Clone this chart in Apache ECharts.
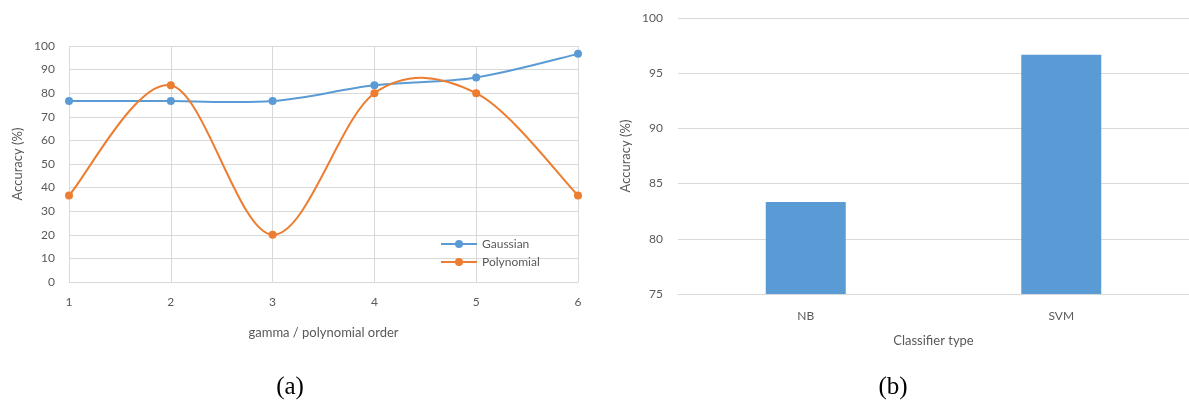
<!DOCTYPE html>
<html>
<head>
<meta charset="utf-8">
<script src="https://cdn.jsdelivr.net/npm/echarts@6/dist/echarts.min.js"></script>
<style>
  html, body { margin: 0; padding: 0; background: #fff; }
  #chart { width: 1189px; height: 401px; }
</style>
</head>
<body>
<div id="chart"></div>
<script>
// (a) accuracy vs. gamma / polynomial order
const orders = ['1', '2', '3', '4', '5', '6'];
const gaussian = [76.67, 76.67, 76.67, 83.33, 86.67, 96.67];
const polynomial = [36.67, 83.33, 20, 80, 80, 36.67];

// (b) accuracy per classifier
const classifiers = ['NB', 'SVM'];
const classifierAccuracy = [83.33, 96.67];

const BLUE = '#5B9BD5';
const ORANGE = '#ED7D31';
const GRID_LINE = '#d9d9d9';
const TEXT = '#595959';
const FONT = 'Lato, "Open Sans", sans-serif';
const CAPTION_FONT = '25px "Liberation Serif", "DejaVu Serif", serif';

const chart = echarts.init(document.getElementById('chart'), null, { renderer: 'canvas' });

const axisText = { color: TEXT, fontFamily: FONT, fontSize: 12 };
const nameText = { color: TEXT, fontFamily: FONT, fontSize: 13 };

// Cardinal-spline segment (tension 1/6) between point i and i+1, so the
// curve may swing past the markers the way spreadsheet smoothing does.
function smoothSegment(values, color) {
  return function (params, api) {
    const i = params.dataIndex;
    if (i >= values.length - 1) return null;
    const pt = (k) => {
      const j = Math.max(0, Math.min(values.length - 1, k));
      return api.coord([j, values[j]]);
    };
    const p0 = pt(i - 1), p1 = pt(i), p2 = pt(i + 1), p3 = pt(i + 2);
    return {
      type: 'bezierCurve',
      shape: {
        x1: p1[0], y1: p1[1],
        x2: p2[0], y2: p2[1],
        cpx1: p1[0] + (p2[0] - p0[0]) / 6,
        cpy1: p1[1] + (p2[1] - p0[1]) / 6,
        cpx2: p2[0] - (p3[0] - p1[0]) / 6,
        cpy2: p2[1] - (p3[1] - p1[1]) / 6
      },
      style: { fill: null, stroke: color, lineWidth: 2 }
    };
  };
}

function curveSeries(name, values, color) {
  return {
    name: name + ' curve',
    type: 'custom',
    xAxisIndex: 0,
    yAxisIndex: 0,
    data: values.map((v, i) => [i, v]),
    encode: { x: 0, y: 1 },
    renderItem: smoothSegment(values, color),
    silent: true,
    z: 2
  };
}

function markerSeries(name, values, color) {
  return {
    name: name,
    type: 'line',
    xAxisIndex: 0,
    yAxisIndex: 0,
    data: values,
    symbol: 'circle',
    symbolSize: 8,
    lineStyle: { color: color, width: 2, opacity: 0 },
    itemStyle: { color: color },
    z: 3
  };
}

chart.setOption({
  animation: false,
  backgroundColor: '#fff',
  grid: [
    { left: 69, top: 46, width: 509, height: 236 },
    { left: 678, top: 18, width: 511, height: 276 }
  ],
  legend: {
    orient: 'vertical',
    left: 440,
    top: 238,
    padding: 0,
    itemWidth: 36,
    itemHeight: 10,
    itemGap: 6,
    textStyle: { color: TEXT, fontFamily: FONT, fontSize: 12 },
    data: [
      { name: 'Gaussian', lineStyle: { color: BLUE, width: 2, opacity: 1 } },
      { name: 'Polynomial', lineStyle: { color: ORANGE, width: 2, opacity: 1 } }
    ]
  },
  xAxis: [
    {
      gridIndex: 0,
      type: 'category',
      data: orders,
      boundaryGap: false,
      axisLine: { lineStyle: { color: GRID_LINE } },
      axisTick: { show: false },
      axisLabel: { ...axisText, margin: 14 },
      splitLine: { show: true, lineStyle: { color: GRID_LINE } },
      name: 'gamma / polynomial order',
      nameLocation: 'middle',
      nameGap: 44,
      nameTextStyle: nameText
    },
    {
      gridIndex: 1,
      type: 'category',
      data: classifiers,
      axisLine: { lineStyle: { color: GRID_LINE } },
      axisTick: { show: false },
      axisLabel: { ...axisText, margin: 16 },
      name: 'Classifier type',
      nameLocation: 'middle',
      nameGap: 40,
      nameTextStyle: nameText
    }
  ],
  yAxis: [
    {
      gridIndex: 0,
      type: 'value',
      min: 0,
      max: 100,
      interval: 10,
      axisLine: { show: false },
      axisTick: { show: false },
      axisLabel: { ...axisText, margin: 14 },
      splitLine: { lineStyle: { color: GRID_LINE } },
      name: 'Accuracy (%)',
      nameLocation: 'middle',
      nameGap: 45,
      nameTextStyle: nameText
    },
    {
      gridIndex: 1,
      type: 'value',
      min: 75,
      max: 100,
      interval: 5,
      axisLine: { show: false },
      axisTick: { show: false },
      axisLabel: { ...axisText, margin: 15 },
      splitLine: { lineStyle: { color: GRID_LINE } },
      name: 'Accuracy (%)',
      nameLocation: 'middle',
      nameGap: 46,
      nameTextStyle: nameText
    }
  ],
  series: [
    curveSeries('Gaussian', gaussian, BLUE),
    curveSeries('Polynomial', polynomial, ORANGE),
    markerSeries('Gaussian', gaussian, BLUE),
    markerSeries('Polynomial', polynomial, ORANGE),
    {
      name: 'Classifier accuracy',
      type: 'bar',
      xAxisIndex: 1,
      yAxisIndex: 1,
      data: classifierAccuracy,
      barWidth: 80,
      itemStyle: { color: BLUE }
    }
  ],
  graphic: [
    {
      type: 'text',
      x: 290,
      y: 387,
      style: { text: '(a)', fill: '#000', font: CAPTION_FONT, align: 'center', verticalAlign: 'middle' }
    },
    {
      type: 'text',
      x: 893,
      y: 387,
      style: { text: '(b)', fill: '#000', font: CAPTION_FONT, align: 'center', verticalAlign: 'middle' }
    }
  ]
});
</script>
</body>
</html>
